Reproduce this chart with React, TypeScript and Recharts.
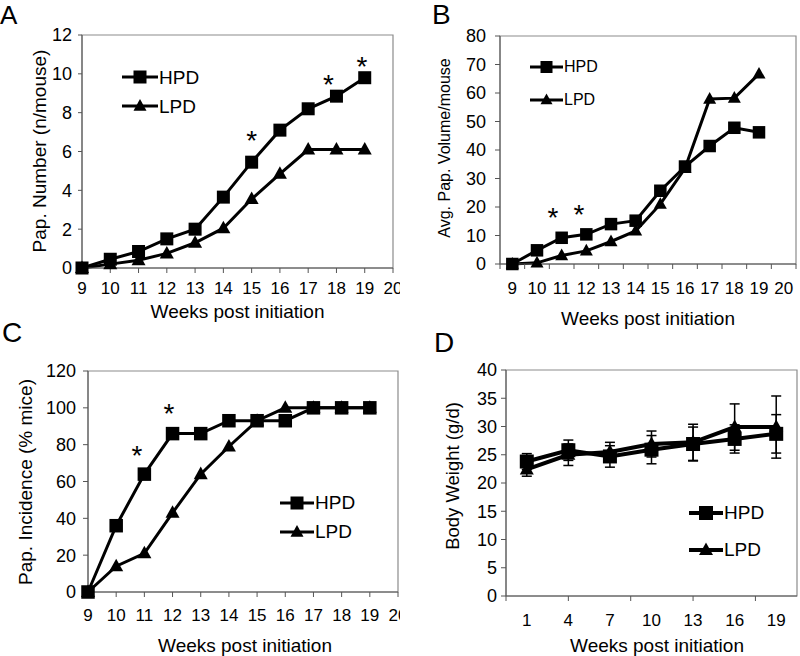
import React from 'react';
import { LineChart, Line, XAxis, YAxis, ReferenceArea, ReferenceDot, ErrorBar, Legend } from 'recharts';

const FONT = '"Liberation Sans", Arial, Helvetica, sans-serif';

// shared week axis for A, B, C
const weeks = [9, 10, 11, 12, 13, 14, 15, 16, 17, 18, 19];
const weekTicks = [9, 10, 11, 12, 13, 14, 15, 16, 17, 18, 19, 20];
const weekBounds = [8.5, 9.5, 10.5, 11.5, 12.5, 13.5, 14.5, 15.5, 16.5, 17.5, 18.5, 19.5, 20.5];

// A: papilloma number (n/mouse)
const numHPD = [0, 0.45, 0.85, 1.5, 2.0, 3.65, 5.45, 7.1, 8.2, 8.85, 9.8];
const numLPD = [0, 0.2, 0.4, 0.75, 1.3, 2.05, 3.55, 4.85, 6.1, 6.1, 6.1];
const numTicks = [0, 2, 4, 6, 8, 10, 12];
const numStars = [{ x: 15, y: 6.9 }, { x: 17.72, y: 9.8 }, { x: 18.9, y: 10.7 }];

// B: average papilloma volume per mouse
const volHPD = [0, 4.8, 9.2, 10.4, 14, 15.2, 25.7, 34.2, 41.4, 47.8, 46.2];
const volLPD = [0, 0.4, 3.0, 4.6, 7.9, 11.6, 21, 33.6, 57.9, 58.2, 66.7];
const volTicks = [0, 10, 20, 30, 40, 50, 60, 70, 80];
const volStars = [{ x: 10.65, y: 18.5 }, { x: 11.7, y: 19.6 }];

// C: papilloma incidence (% mice)
const incHPD = [0, 36, 64, 86, 86, 93, 93, 93, 100, 100, 100];
const incLPD = [0, 14, 21, 43, 64, 79, 93, 100, 100, 100, 100];
const incTicks = [0, 20, 40, 60, 80, 100, 120];
const incStars = [{ x: 10.74, y: 77.5 }, { x: 11.87, y: 100.4 }];

// D: body weight
const weeksD = [1, 4, 7, 10, 13, 16, 19];
const boundsD = [-0.5, 4, 8.5, 13, 17.5];
const bwHPD = [23.8, 25.8, 24.7, 25.9, 26.9, 27.8, 28.7];
const bwHPDerr = [1.4, 1.8, 1.9, 2.5, 3.0, 2.5, 3.4];
const bwLPD = [22.4, 25.0, 25.5, 26.9, 27.2, 29.9, 29.9];
const bwLPDerr = [1.2, 1.9, 1.7, 2.3, 3.2, 4.1, 5.5];
const bwTicks = [0, 5, 10, 15, 20, 25, 30, 35, 40];

const dataA = weeks.map((w, i) => ({ week: w, HPD: numHPD[i], LPD: numLPD[i] }));
const dataB = weeks.map((w, i) => ({ week: w, HPD: volHPD[i], LPD: volLPD[i] }));
const dataC = weeks.map((w, i) => ({ week: w, HPD: incHPD[i], LPD: incLPD[i] }));
const dataD = weeksD.map((w, i) => ({ week: w, HPD: bwHPD[i], HPDerr: bwHPDerr[i], LPD: bwLPD[i], LPDerr: bwLPDerr[i] }));

const AXIS = '#555';
const FRAME = '#8c8c8c';

const merged = (a: number[], b: number[]) => Array.from(new Set([...a, ...b])).sort((x, y) => x - y);

const squareDot = (s: number) => (p: any) => {
  if (p.cx == null || p.cy == null) return <g key={p.index} />;
  return <rect key={p.index} x={p.cx - s / 2} y={p.cy - s / 2} width={s} height={s} fill="#000" />;
};

const triangleDot = (s: number) => (p: any) => {
  if (p.cx == null || p.cy == null) return <g key={p.index} />;
  const h = s * 0.9;
  return (
    <polygon
      key={p.index}
      points={`${p.cx},${p.cy - h * 0.6} ${p.cx + s / 2},${p.cy + h * 0.4} ${p.cx - s / 2},${p.cy + h * 0.4}`}
      fill="#000"
    />
  );
};

const star = (p: any) => (
  <text x={p.cx} y={p.cy + 16} textAnchor="middle" fontSize={28} fontFamily={FONT} fill="#000">*</text>
);

// x ticks where the labels sit in the middle of the category and the marks sit between them
const splitTick = (labels: number[], bounds: number[], size: number, margin: number, fontSize: number) => (p: any) => {
  const v = p.payload.value;
  const axisY = p.y - size - margin;
  return (
    <g key={`t-${v}`}>
      {bounds.includes(v) && <line x1={p.x} x2={p.x} y1={axisY} y2={axisY + size} stroke={AXIS} />}
      {labels.includes(v) && (
        <text x={p.x} y={p.y} dy="0.71em" textAnchor="middle" fontSize={fontSize} fontFamily={FONT} fill="#000">{v}</text>
      )}
    </g>
  );
};

const legendContent = (fontSize: number, rowH: number, lineW: number, s: number, lw: number) => () => (
  <div style={{ fontFamily: FONT, fontSize, lineHeight: 1, color: '#000' }}>
    {['HPD', 'LPD'].map((name) => (
      <div key={name} style={{ display: 'flex', alignItems: 'center', height: rowH }}>
        <svg width={lineW} height={16} style={{ display: 'block' }}>
          <line x1={0} y1={8} x2={lineW} y2={8} stroke="#000" strokeWidth={lw} />
          {name === 'HPD'
            ? squareDot(s)({ cx: lineW / 2, cy: 8, index: 0 })
            : triangleDot(s)({ cx: lineW / 2, cy: 8, index: 0 })}
        </svg>
        <span style={{ marginLeft: 1 }}>{name}</span>
      </div>
    ))}
  </div>
);

const tickFont = (fontSize: number) => ({ fontSize, fill: '#000', fontFamily: FONT });

function Title({ text, x, y, size = 19, rotate = false }: { text: string; x: number; y: number; size?: number; rotate?: boolean }) {
  return (
    <div
      style={{
        position: 'absolute', left: x, top: y, fontFamily: FONT, fontSize: size, lineHeight: 1,
        whiteSpace: 'nowrap', color: '#000',
        transform: `translate(-50%, -50%)${rotate ? ' rotate(-90deg)' : ''}`,
      }}
    >
      {text}
    </div>
  );
}

function Letter({ text, x, y, size }: { text: string; x: number; y: number; size: number }) {
  return (
    <div style={{ position: 'absolute', left: x, top: y, fontFamily: FONT, fontSize: size, lineHeight: 1, color: '#000' }}>{text}</div>
  );
}

export default function App() {
  return (
    <div style={{ position: 'absolute', left: 0, top: 0, width: 800, height: 656, background: '#fff', overflow: 'hidden' }}>
      {/* A */}
      <div style={{ position: 'absolute', left: 0, top: 0 }}>
        <LineChart width={400} height={320} data={dataA} margin={{ top: 35, right: 7, bottom: 12, left: 22 }}>
          <ReferenceArea x1={9} x2={20} y1={0} y2={12} fill="none" stroke={FRAME} strokeWidth={1.2} />
          <XAxis type="number" dataKey="week" domain={[9, 20]} ticks={weekTicks} interval={0} height={40}
            tickSize={5} tickMargin={9} tick={tickFont(17)} axisLine={{ stroke: AXIS }} tickLine={{ stroke: AXIS }} />
          <YAxis domain={[0, 12]} ticks={numTicks} interval={0} width={60} tickSize={4} tickMargin={6}
            tick={tickFont(18)} axisLine={{ stroke: AXIS }} tickLine={{ stroke: AXIS }} />
          <Line type="linear" dataKey="LPD" stroke="#000" strokeWidth={3} dot={triangleDot(14)} activeDot={false} isAnimationActive={false} />
          <Line type="linear" dataKey="HPD" stroke="#000" strokeWidth={3} dot={squareDot(13)} activeDot={false} isAnimationActive={false} />
          {numStars.map((s, i) => <ReferenceDot key={i} x={s.x} y={s.y} r={0} shape={star} />)}
          <Legend layout="horizontal" verticalAlign="middle" align="center" wrapperStyle={{ left: 122, top: 62.5, width: 'auto' }}
            content={legendContent(19, 29, 36, 13, 3)} />
        </LineChart>
      </div>

      {/* B */}
      <div style={{ position: 'absolute', left: 400, top: 0 }}>
        <LineChart width={400} height={320} data={dataB} margin={{ top: 36, right: 4, bottom: 16, left: 40 }}>
          <ReferenceArea x1={8.5} x2={20.5} y1={0} y2={80} fill="none" stroke={FRAME} strokeWidth={1.2} />
          <XAxis type="number" dataKey="week" domain={[8.5, 20.5]} ticks={merged(weekBounds, weekTicks)}
            interval={0} height={40} tickSize={5} tickMargin={13} tickLine={false}
            tick={splitTick(weekTicks, weekBounds, 5, 13, 17)} axisLine={{ stroke: AXIS }} />
          <YAxis domain={[0, 80]} ticks={volTicks} interval={0} width={60} tickSize={5} tickMargin={9}
            tick={tickFont(18)} axisLine={{ stroke: AXIS }} tickLine={{ stroke: AXIS }} />
          <Line type="linear" dataKey="LPD" stroke="#000" strokeWidth={3} dot={triangleDot(13)} activeDot={false} isAnimationActive={false} />
          <Line type="linear" dataKey="HPD" stroke="#000" strokeWidth={3} dot={squareDot(12.5)} activeDot={false} isAnimationActive={false} />
          {volStars.map((s, i) => <ReferenceDot key={i} x={s.x} y={s.y} r={0} shape={star} />)}
          <Legend layout="horizontal" verticalAlign="middle" align="center" wrapperStyle={{ left: 130, top: 50.5, width: 'auto' }}
            content={legendContent(16, 33, 33, 12, 3)} />
        </LineChart>
      </div>

      {/* C */}
      <div style={{ position: 'absolute', left: 0, top: 320 }}>
        <LineChart width={400} height={336} data={dataC} margin={{ top: 51, right: 2, bottom: 24, left: 28 }}>
          <ReferenceArea x1={9} x2={20} y1={0} y2={120} fill="none" stroke={FRAME} strokeWidth={1.2} />
          <XAxis type="number" dataKey="week" domain={[9, 20]} ticks={weekTicks} interval={0} height={40}
            tickSize={5} tickMargin={12} tick={tickFont(17)} axisLine={{ stroke: AXIS }} tickLine={{ stroke: AXIS }} />
          <YAxis domain={[0, 120]} ticks={incTicks} interval={0} width={60} tickSize={5} tickMargin={7}
            tick={tickFont(18)} axisLine={{ stroke: AXIS }} tickLine={{ stroke: AXIS }} />
          <Line type="linear" dataKey="LPD" stroke="#000" strokeWidth={3} dot={triangleDot(14)} activeDot={false} isAnimationActive={false} />
          <Line type="linear" dataKey="HPD" stroke="#000" strokeWidth={3} dot={squareDot(13.5)} activeDot={false} isAnimationActive={false} />
          {incStars.map((s, i) => <ReferenceDot key={i} x={s.x} y={s.y} r={0} shape={star} />)}
          <Legend layout="horizontal" verticalAlign="middle" align="center" wrapperStyle={{ left: 280, top: 168, width: 'auto' }}
            content={legendContent(19, 29, 34, 13, 3)} />
        </LineChart>
      </div>

      {/* D */}
      <div style={{ position: 'absolute', left: 400, top: 320 }}>
        <LineChart width={400} height={336} data={dataD} margin={{ top: 50, right: 3, bottom: 20, left: 46 }}>
          <ReferenceArea x1={-0.5} x2={20.5} y1={0} y2={40} fill="none" stroke={FRAME} strokeWidth={1.2} />
          <XAxis type="number" dataKey="week" domain={[-0.5, 20.5]} ticks={merged(boundsD, weeksD)}
            interval={0} height={40} tickSize={5} tickMargin={13} tickLine={false}
            tick={splitTick(weeksD, boundsD, 5, 13, 17)} axisLine={{ stroke: AXIS }} />
          <YAxis domain={[0, 40]} ticks={bwTicks} interval={0} width={60} tickSize={5} tickMargin={4}
            tick={tickFont(18)} axisLine={{ stroke: AXIS }} tickLine={{ stroke: AXIS }} />
          <Line type="linear" dataKey="HPD" stroke="#000" strokeWidth={4} dot={squareDot(14)} activeDot={false} isAnimationActive={false}>
            <ErrorBar dataKey="HPDerr" direction="y" width={5} stroke="#000" strokeWidth={1.5} />
          </Line>
          <Line type="linear" dataKey="LPD" stroke="#000" strokeWidth={4} dot={triangleDot(14)} activeDot={false} isAnimationActive={false}>
            <ErrorBar dataKey="LPDerr" direction="y" width={5} stroke="#000" strokeWidth={1.5} />
          </Line>
          <Legend layout="horizontal" verticalAlign="middle" align="center" wrapperStyle={{ left: 289, top: 174, width: 'auto' }}
            content={legendContent(19, 37, 34, 14, 4)} />
        </LineChart>
      </div>

      <Letter text="A" x={0} y={1.6} size={26} />
      <Letter text="B" x={432} y={1.4} size={28} />
      <Letter text="C" x={2} y={319.4} size={28} />
      <Letter text="D" x={434} y={329.4} size={28} />

      <Title text="Weeks post initiation" x={237.5} y={311} />
      <Title text="Weeks post initiation" x={648} y={318} />
      <Title text="Weeks post initiation" x={245} y={645} />
      <Title text="Weeks post initiation" x={657} y={645} />

      <Title text="Pap. Number (n/mouse)" x={39} y={151} size={19} rotate />
      <Title text="Avg. Pap. Volume/mouse" x={445} y={148} size={16} rotate />
      <Title text="Pap. Incidence (% mice)" x={25} y={482} size={19} rotate />
      <Title text="Body Weight (g/d)" x={453} y={476} size={18.5} rotate />
    </div>
  );
}
